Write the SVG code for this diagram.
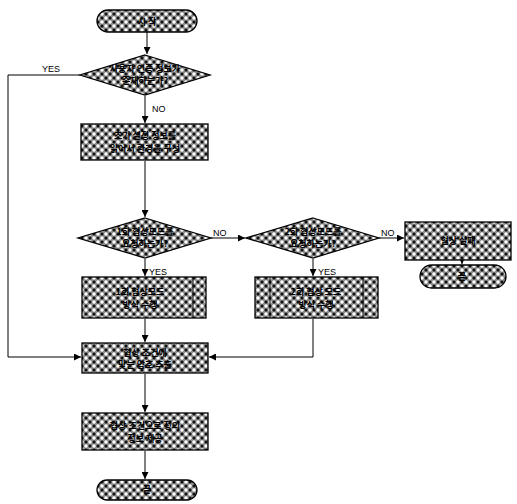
<svg xmlns="http://www.w3.org/2000/svg" width="517" height="504" viewBox="0 0 517 504">
<defs>
<pattern id="chk" width="8" height="8" patternUnits="userSpaceOnUse">
<rect width="8" height="8" fill="#8a8a8a"/>
<circle cx="2" cy="2" r="1.7" fill="#fff"/>
<circle cx="6" cy="6" r="1.7" fill="#fff"/>
<circle cx="6" cy="2" r="1.5" fill="#111"/>
<circle cx="2" cy="6" r="1.5" fill="#111"/>
</pattern>
<marker id="arr" viewBox="0 0 10 10" refX="10" refY="5" markerWidth="7" markerHeight="7" orient="auto-start-reverse">
<path d="M0,0 L10,5 L0,10 z" fill="#000"/>
</marker>
</defs>
<style>
.s{fill:url(#chk);stroke:#000;stroke-width:1.3}
.t{font-family:"Noto Sans CJK KR","Noto Sans",sans-serif;font-size:9px;font-weight:bold;fill:#000;text-anchor:middle}
.l{font-family:"Liberation Sans",Arial,sans-serif;font-size:9px;fill:#000}
.c{fill:none;stroke:#000;stroke-width:1}
</style>
<rect width="517" height="504" fill="#fff"/>
<g id="connectors">
<line class="c" x1="147" y1="32" x2="147" y2="54" marker-end="url(#arr)"/>
<line class="c" x1="145" y1="96" x2="145" y2="123" marker-end="url(#arr)"/>
<line class="c" x1="145" y1="161" x2="145" y2="217" marker-end="url(#arr)"/>
<line class="c" x1="211" y1="238" x2="245" y2="238" marker-end="url(#arr)"/>
<line class="c" x1="379" y1="238" x2="404" y2="238" marker-end="url(#arr)"/>
<line class="c" x1="462" y1="260" x2="462" y2="264" marker-end="url(#arr)"/>
<line class="c" x1="145" y1="259" x2="145" y2="276" marker-end="url(#arr)"/>
<line class="c" x1="313" y1="259" x2="313" y2="276" marker-end="url(#arr)"/>
<line class="c" x1="145" y1="319" x2="145" y2="342" marker-end="url(#arr)"/>
<polyline class="c" points="313,319 313,357 209,357" marker-end="url(#arr)"/>
<polyline class="c" points="80,75 8,75 8,357 81,357" marker-end="url(#arr)"/>
<line class="c" x1="145" y1="374" x2="145" y2="412" marker-end="url(#arr)"/>
<line class="c" x1="145" y1="451" x2="145" y2="479" marker-end="url(#arr)"/>
<text class="l" x="42" y="72">YES</text>
<text class="l" x="152" y="112">NO</text>
<text class="l" x="213" y="236">NO</text>
<text class="l" x="381" y="236">NO</text>
<text class="l" x="149" y="275">YES</text>
<text class="l" x="318" y="275">YES</text>
</g>
<g id="start">
<rect class="s" x="97" y="10" width="100" height="22" rx="11"/>
<text class="t" x="147" y="25">시 작</text>
</g>
<g id="d1">
<polygon class="s" points="145,55 210,75 145,95 80,75"/>
<text class="t" x="145" y="72">사용자 인증 정보가</text>
<text class="t" x="145" y="84">존재하는가?</text>
</g>
<g id="b1">
<rect class="s" x="81" y="124" width="127" height="36"/>
<text class="t" x="145" y="139">초기 설정 정보를</text>
<text class="t" x="145" y="152">읽어서 환경을 구성</text>
</g>
<g id="d2">
<polygon class="s" points="145,218 211,238 145,258 78,238"/>
<text class="t" x="145" y="235">1회 협상모드를</text>
<text class="t" x="145" y="247">요청하는가?</text>
</g>
<g id="d3">
<polygon class="s" points="313,218 379,238 313,258 246,238"/>
<text class="t" x="313" y="235">2회 협상모드를</text>
<text class="t" x="313" y="247">요청하는가?</text>
</g>
<g id="b4">
<rect class="s" x="405" y="222" width="106" height="38"/>
<text class="t" x="458" y="244">협상 실패</text>
</g>
<g id="end2">
<rect class="s" x="420" y="265" width="86" height="23" rx="11.5"/>
<text class="t" x="462" y="280">끝</text>
</g>
<g id="b2">
<rect class="s" x="82" y="277" width="124" height="41"/>
<line class="c" x1="193" y1="277" x2="193" y2="318"/>
<text class="t" x="140" y="295">1회 협상모드</text>
<text class="t" x="140" y="308">방식 수행</text>
</g>
<g id="b3">
<rect class="s" x="255" y="277" width="123" height="41"/>
<line class="c" x1="270" y1="277" x2="270" y2="318"/>
<line class="c" x1="363" y1="277" x2="363" y2="318"/>
<text class="t" x="316" y="295">2회 협상 모드</text>
<text class="t" x="316" y="308">방식 수행</text>
</g>
<g id="b5">
<rect class="s" x="82" y="343" width="126" height="30"/>
<text class="t" x="145" y="356">협상 조건에</text>
<text class="t" x="145" y="368">맞는 암호 추출</text>
</g>
<g id="b6">
<rect class="s" x="82" y="413" width="126" height="37"/>
<text class="t" x="145" y="429">협상 조건으로 정의</text>
<text class="t" x="145" y="442">정보 제공</text>
</g>
<g id="end">
<rect class="s" x="97" y="480" width="100" height="20" rx="10"/>
<text class="t" x="147" y="493">끝</text>
</g>
</svg>
